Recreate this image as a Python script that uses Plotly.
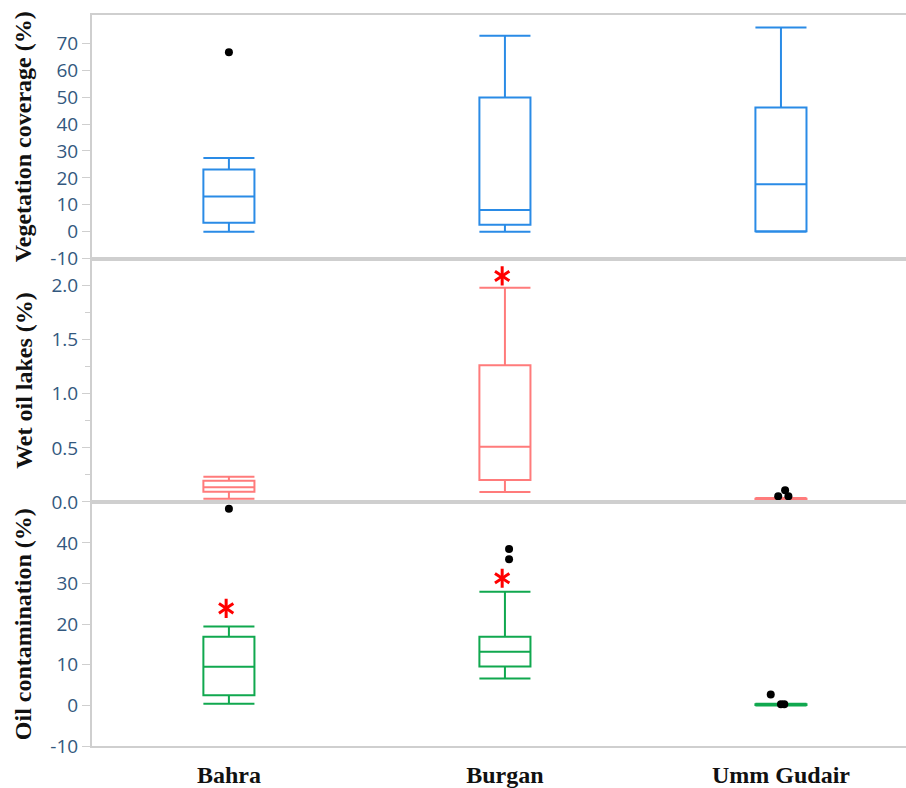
import plotly.graph_objects as go
from plotly.subplots import make_subplots

# ---------------- data ----------------
sites = ["Bahra", "Burgan", "Umm Gudair"]
site_pos = [0, 1, 2]

# Vegetation coverage (%) box stats
veg_min = [0.0, 0.0, 0.0]
veg_q1 = [3.3, 2.6, 0.2]
veg_med = [13.1, 8.1, 17.6]
veg_q3 = [23.1, 49.9, 46.1]
veg_max = [27.4, 72.8, 75.9]
veg_out_site = [0]
veg_out_dx = [0.0]
veg_out_val = [66.7]

# Wet oil lakes (%) box stats
wet_min = [0.03, 0.092, 0.0]
wet_q1 = [0.095, 0.203, 0.0]
wet_med = [0.135, 0.51, 0.01]
wet_q3 = [0.196, 1.265, 0.03]
wet_max = [0.233, 1.98, 0.035]
wet_out_site = [2, 2, 2]
wet_out_dx = [-0.01, 0.015, 0.027]
wet_out_val = [0.052, 0.108, 0.052]
wet_star_site = [1]
wet_star_val = [2.09]

# Oil contamination (%) box stats
oil_min = [0.4, 6.6, 0.0]
oil_q1 = [2.5, 9.6, 0.1]
oil_med = [9.5, 13.2, 0.2]
oil_q3 = [16.9, 16.9, 0.3]
oil_max = [19.4, 28.0, 0.4]
oil_out_site = [0, 1, 1, 2, 2, 2]
oil_out_dx = [0.0, 0.015, 0.015, -0.037, 0.0, 0.012]
oil_out_val = [48.4, 38.5, 36.0, 2.7, 0.3, 0.3]
oil_star_site = [0, 1]
oil_star_val = [23.9, 31.3]

panel_titles = ["Vegetation coverage (%)", "Wet oil lakes (%)", "Oil contamination (%)"]
panel_colors = ["#2a8be6", "#ff7b7b", "#10a84f"]

# ---------------- figure ----------------
fig = make_subplots(rows=3, cols=1, shared_xaxes=True, vertical_spacing=0)

panels = [
    (veg_min, veg_q1, veg_med, veg_q3, veg_max, veg_out_site, veg_out_dx, veg_out_val, [], []),
    (wet_min, wet_q1, wet_med, wet_q3, wet_max, wet_out_site, wet_out_dx, wet_out_val, wet_star_site, wet_star_val),
    (oil_min, oil_q1, oil_med, oil_q3, oil_max, oil_out_site, oil_out_dx, oil_out_val, oil_star_site, oil_star_val),
]

for i, (mn, q1, md, q3, mx, osite, odx, oval, ssite, sval) in enumerate(panels):
    row = i + 1
    fig.add_trace(go.Box(
        x=site_pos, q1=q1, median=md, q3=q3, lowerfence=mn, upperfence=mx,
        width=0.185, whiskerwidth=1.0,
        line=dict(color=panel_colors[i], width=2),
        fillcolor="rgba(255,255,255,0)",
        boxpoints=False, hoverinfo="skip",
    ), row=row, col=1)
    if oval:
        fig.add_trace(go.Scatter(
            x=[site_pos[s] + d for s, d in zip(osite, odx)], y=oval,
            mode="markers", marker=dict(color="black", size=8),
            hoverinfo="skip",
        ), row=row, col=1)
    if sval:
        # six-armed red asterisk built from two three-armed symbols
        for sym in ["y-up-open", "y-down-open"]:
            fig.add_trace(go.Scatter(
                x=[site_pos[s] - 0.01 for s in ssite], y=sval,
                mode="markers",
                marker=dict(symbol=sym, size=12, color="#ff0000",
                            line=dict(color="#ff0000", width=3)),
                hoverinfo="skip",
            ), row=row, col=1)

axis_gray = "#cfcfcf"
tick_font = dict(family="Open Sans", size=19, color="#33587e")

ranges = [[-10, 80.5], [-0.004, 2.25], [-10, 50]]
tickvals = [list(range(-10, 80, 10)), [0, 0.5, 1.0, 1.5, 2.0], list(range(-10, 50, 10))]
ticktexts = [[str(v) for v in tickvals[0]], ["0.0", "0.5", "1.0", "1.5", "2.0"], [str(v) for v in tickvals[2]]]

for i in range(3):
    row = i + 1
    fig.update_yaxes(
        range=ranges[i], tickvals=tickvals[i], ticktext=ticktexts[i],
        showgrid=False, zeroline=False,
        showline=True, linecolor=axis_gray, linewidth=2,
        ticks="outside", ticklen=8, tickcolor=axis_gray, tickwidth=1,
        tickfont=tick_font,
        title=dict(text="<b>" + panel_titles[i] + "</b>",
                   font=dict(family="Liberation Serif", size=24, color="#111111"),
                   standoff=12),
        row=row, col=1,
    )
    fig.update_xaxes(
        range=[-0.496, 2.482], showgrid=False, zeroline=False,
        showline=True, mirror=True, linecolor=axis_gray, linewidth=1.5,
        tickvals=site_pos, ticks="",
        row=row, col=1,
    )

# minor ticks for wet oil lakes axis
fig.update_yaxes(minor=dict(tickvals=[0.25, 0.75, 1.25, 1.75], ticks="outside",
                            ticklen=5, tickcolor=axis_gray), row=2, col=1)

fig.update_xaxes(showticklabels=False, row=1, col=1)
fig.update_xaxes(showticklabels=False, row=2, col=1)
fig.update_xaxes(
    showticklabels=True,
    ticktext=["<b>" + s + "</b>" for s in sites],
    tickfont=dict(family="Liberation Serif", size=24, color="#111111"),
    ticklabelstandoff=6,
    row=3, col=1,
)

# plot area runs past the right edge of the window, as in the cropped reference
fig.update_layout(
    width=914, height=788,
    margin=dict(l=92, r=0, t=15, b=39),
    paper_bgcolor="white", plot_bgcolor="white",
    showlegend=False,
)

fig.write_html(
    "out.html",
    config={"displayModeBar": False},
    post_script="document.body.style.margin='0';document.body.style.overflow='hidden';",
)
